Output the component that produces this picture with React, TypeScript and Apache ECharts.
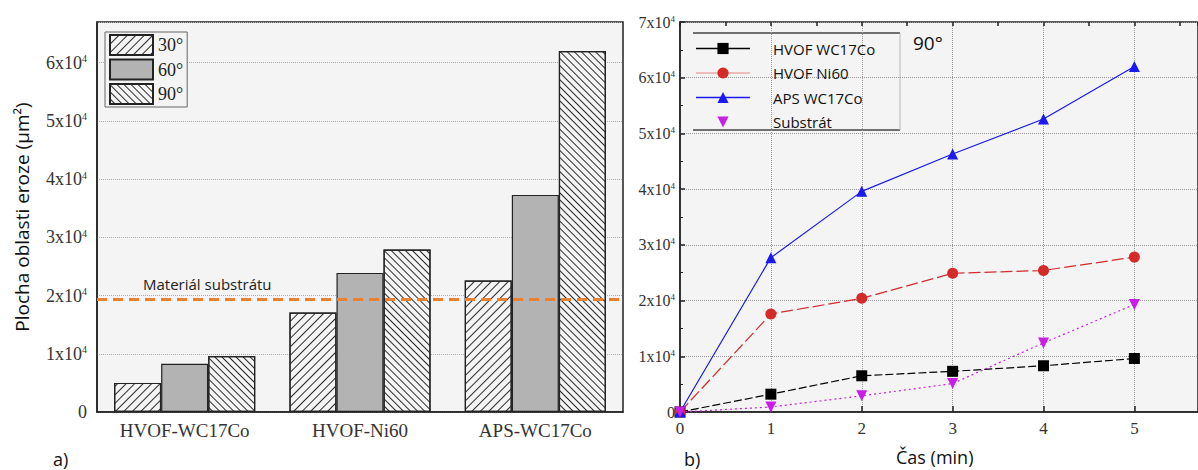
import React, { useEffect, useRef } from "react";
import * as echarts from "echarts";

const barCategories = ["HVOF-WC17Co", "HVOF-Ni60", "APS-WC17Co"];
const bar30 = [5000, 17100, 22600];
const bar60 = [8300, 23900, 37300];
const bar90 = [9600, 27900, 62000];
const substrateLevel = 19300;

const timeMin = [0, 1, 2, 3, 4, 5];
const hvofWC = [0, 3200, 6500, 7300, 8300, 9600];
const hvofNi = [0, 17600, 20400, 24900, 25400, 27800];
const apsWC = [0, 27700, 39600, 46300, 52600, 62000];
const substrat = [0, 900, 2900, 5100, 12400, 19300];

const SERIF = "'Liberation Serif', 'Times New Roman', serif";
const SANS = "'Open Sans', 'Noto Sans', sans-serif";
const BG = "#f4f4f4";

const supFmt = (v: number) => {
  if (v === 0) return "{m|0}";
  if (v % 10000 !== 0) return "";
  return `{m|${v / 10000}x10}{s|4}`;
};

const hatch = (rot: number, gap: number) => ({
  symbol: "rect",
  symbolSize: 1,
  color: "#2a2a2a",
  dashArrayX: [1, 0],
  dashArrayY: [1, gap],
  rotation: rot,
});

export default function App() {
  const ref = useRef<HTMLDivElement>(null);
  useEffect(() => {
    if (!ref.current) return;
    const chart = echarts.init(ref.current, undefined, { renderer: "svg" });
    const richL = {
      m: { fontFamily: SERIF, fontSize: 18, color: "#333" },
      s: { fontFamily: SERIF, fontSize: 10, color: "#333", verticalAlign: "top" },
    };
    const richR = {
      m: { fontFamily: SERIF, fontSize: 16, color: "#333" },
      s: { fontFamily: SERIF, fontSize: 9, color: "#333", verticalAlign: "top" },
    };
    const barItem = { borderColor: "#222", borderWidth: 1.2 };
    const lineSeries = (name: string, data: number[], color: string, symbol: string, type: any, rotate = 0, size = 11) => ({
      type: "line",
      name,
      xAxisIndex: 1,
      yAxisIndex: 1,
      data: timeMin.map((t, i) => [t, data[i]]),
      symbol,
      symbolSize: size,
      symbolRotate: rotate,
      itemStyle: { color },
      lineStyle: { color, width: 1.2, type },
    });
    const tickOnly = (extra: any) => ({
      type: "value",
      axisLine: { show: false },
      axisLabel: { show: false },
      splitLine: { show: false },
      ...extra,
    });
    chart.setOption({
      animation: false,
      backgroundColor: "#ffffff",
      grid: [
        { left: 97, top: 22, width: 526, height: 390, show: true, backgroundColor: BG, borderColor: "#222", borderWidth: 1.5 },
        { left: 680, top: 22, width: 520, height: 390, show: true, backgroundColor: BG, borderColor: "#222", borderWidth: 1.5 },
      ],
      legend: [
        {
          data: ["30°", "60°", "90°"],
          left: 105,
          top: 32,
          orient: "vertical",
          icon: "rect",
          itemWidth: 43,
          itemHeight: 20,
          itemGap: 2.5,
          padding: [2, 4, 2, 4],
          borderColor: "#666",
          borderWidth: 1,
          backgroundColor: BG,
          selectedMode: false,
          textStyle: { fontFamily: SERIF, fontSize: 18, color: "#222" },
        },
        {
          data: [
            { name: "HVOF WC17Co", lineStyle: { type: "solid", width: 1.5 } },
            { name: "HVOF Ni60", lineStyle: { type: "solid", color: "#eeaaaa", width: 1.5 } },
            { name: "APS WC17Co", lineStyle: { type: "solid", width: 1.5 } },
            { name: "Substrát", lineStyle: { opacity: 0 } },
          ],
          left: 681,
          top: 33,
          orient: "vertical",
          itemWidth: 54,
          itemHeight: 14,
          itemGap: 9.5,
          padding: [8, 10, 8, 14],
          selectedMode: false,
          textStyle: { fontFamily: SANS, fontSize: 15, color: "#111", padding: [0, 0, 0, 18] },
        },
      ],
      xAxis: [
        {
          type: "category",
          gridIndex: 0,
          data: barCategories,
          axisLine: { lineStyle: { color: "#222", width: 1.5 } },
          axisTick: { show: false },
          axisLabel: { fontFamily: SERIF, fontSize: 19, color: "#333", margin: 9 },
        },
        {
          type: "value",
          gridIndex: 1,
          min: 0,
          max: 5.7,
          interval: 1,
          axisLine: { lineStyle: { color: "#222", width: 1.5 } },
          axisTick: { inside: true, length: 6, lineStyle: { color: "#222", width: 1.5 } },
          axisLabel: { fontFamily: SERIF, fontSize: 17, color: "#333", margin: 8, showMaxLabel: false, formatter: (v: number) => (Number.isInteger(v) ? String(v) : "") },
          splitLine: { show: true, lineStyle: { color: "#999", type: "dotted", width: 1 } },
        },
        tickOnly({
          gridIndex: 1,
          min: 0,
          max: 5.7,
          interval: 0.5,
          axisTick: { inside: true, length: 4, lineStyle: { color: "#222", width: 1.5 } },
        }),
      ],
      yAxis: [
        {
          type: "value",
          gridIndex: 0,
          min: 0,
          max: 67000,
          interval: 10000,
          name: "Plocha oblasti eroze (µm²)",
          nameLocation: "middle",
          nameGap: 66,
          nameRotate: 90,
          nameTextStyle: { fontFamily: SANS, fontSize: 19, color: "#111" },
          axisLine: { show: true, lineStyle: { color: "#222", width: 1.5 } },
          axisTick: { inside: true, length: 4, lineStyle: { color: "#222" } },
          axisLabel: { formatter: supFmt, rich: richL, margin: 10, showMaxLabel: false },
          splitLine: { show: true, lineStyle: { color: "#aaa", type: "dotted", width: 1 } },
        },
        {
          type: "value",
          gridIndex: 1,
          min: 0,
          max: 70000,
          interval: 10000,
          axisLine: { show: true, lineStyle: { color: "#222", width: 1.5 } },
          axisTick: { inside: true, length: 5, lineStyle: { color: "#222", width: 1.5 } },
          minorTick: { show: true, splitNumber: 2, length: 3, lineStyle: { color: "#222" } },
          axisLabel: { formatter: supFmt, rich: richR, margin: 5 },
          splitLine: { show: true, lineStyle: { color: "#999", type: "dotted", width: 1 } },
        },
        tickOnly({
          gridIndex: 0,
          min: 0,
          max: 67000,
          interval: 5000,
          axisTick: { inside: true, length: 3, lineStyle: { color: "#222" } },
        }),
      ],
      series: [
        {
          type: "bar",
          name: "30°",
          xAxisIndex: 0,
          yAxisIndex: 0,
          data: bar30,
          barGap: "0%",
          barCategoryGap: "19.5%",
          itemStyle: { ...barItem, color: BG, decal: hatch(-Math.PI / 4, 5) },
          markLine: {
            silent: true,
            symbol: "none",
            label: { show: false },
            lineStyle: { color: "#e8822e", width: 3, type: [10, 6] },
            data: [{ yAxis: substrateLevel }],
          },
        },
        {
          type: "bar",
          name: "60°",
          xAxisIndex: 0,
          yAxisIndex: 0,
          data: bar60,
          itemStyle: { ...barItem, color: "#b3b3b3" },
        },
        {
          type: "bar",
          name: "90°",
          xAxisIndex: 0,
          yAxisIndex: 0,
          data: bar90,
          itemStyle: { ...barItem, color: BG, decal: hatch(Math.PI / 4, 3.5) },
        },
        lineSeries("HVOF WC17Co", hvofWC, "#000000", "rect", [8, 3]),
        lineSeries("HVOF Ni60", hvofNi, "#d42a2a", "circle", [12, 4]),
        lineSeries("APS WC17Co", apsWC, "#1a1af0", "triangle", "solid"),
        lineSeries("Substrát", substrat, "#c81ee8", "triangle", [2, 3], 180),
      ],
      graphic: [
        {
          type: "rect",
          z: -1,
          shape: { x: 693, y: 33, width: 207, height: 97 },
          style: { fill: "#ffffff", stroke: null },
        },
        { type: "line", shape: { x1: 693, y1: 33, x2: 900, y2: 33 }, style: { stroke: "#444", lineWidth: 1.5 } },
        { type: "line", shape: { x1: 693, y1: 130, x2: 900, y2: 130 }, style: { stroke: "#444", lineWidth: 1.5 } },
        { type: "line", shape: { x1: 900, y1: 33, x2: 900, y2: 130 }, style: { stroke: "#bbb", lineWidth: 1 } },
        {
          type: "text",
          left: 143,
          top: 276,
          style: { text: "Materiál substrátu", font: `15px ${SANS}`, fill: "#222" },
        },
        {
          type: "text",
          left: 913,
          top: 33,
          style: { text: "90°", font: `19px ${SANS}`, fill: "#111" },
        },
        {
          type: "text",
          left: 53,
          top: 450,
          style: { text: "a)", font: `18px ${SANS}`, fill: "#111" },
        },
        {
          type: "text",
          left: 684,
          top: 450,
          style: { text: "b)", font: `18px ${SANS}`, fill: "#111" },
        },
        {
          type: "text",
          left: 896,
          top: 448,
          style: { text: "Čas (min)", font: `18px ${SANS}`, fill: "#111" },
        },
      ],
    });
    return () => chart.dispose();
  }, []);
  return <div ref={ref} style={{ position: "fixed", left: 0, top: 0, width: 1198, height: 470 }} />;
}
